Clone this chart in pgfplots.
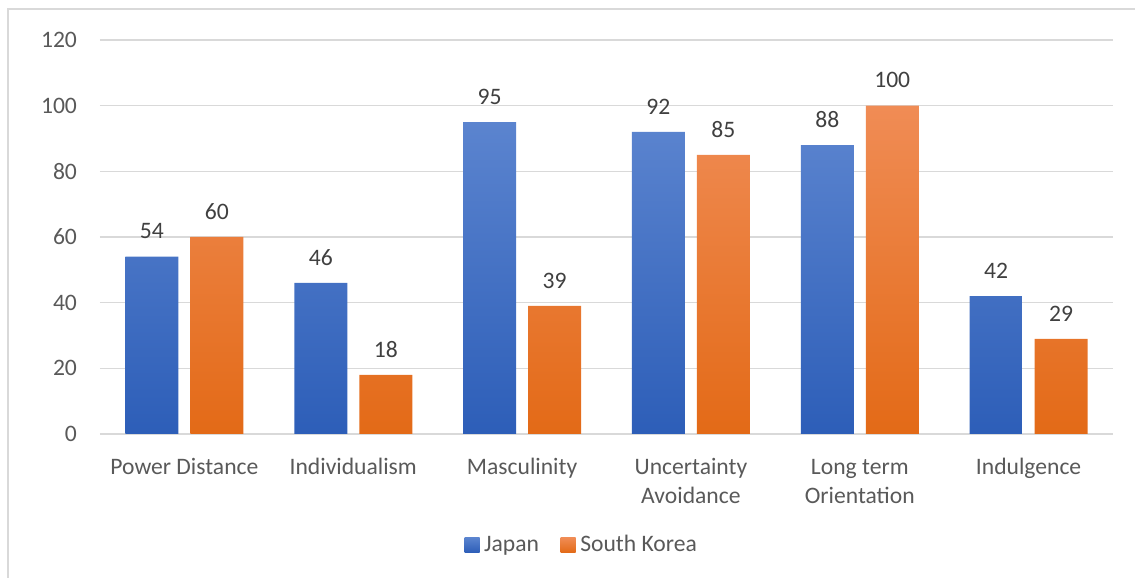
\documentclass[border=0pt]{standalone}
\usepackage{fontspec}
\setmainfont{Carlito}
\usepackage{pgfplots}
\pgfplotsset{compat=1.18}

\definecolor{gridgray}{HTML}{D9D9D9}
\definecolor{ticktext}{HTML}{595959}
\definecolor{labeltext}{HTML}{404040}
\definecolor{bluetop}{HTML}{5B84CF}
\definecolor{bluebot}{HTML}{2D5EB8}
\definecolor{orangetop}{HTML}{F08C55}
\definecolor{orangebot}{HTML}{E36A17}

\newcommand{\twolines}[2]{\begin{tabular}[t]{@{}c@{}}#1\\#2\end{tabular}}

\begin{document}
\begin{tikzpicture}[x=1pt,y=1pt]
% 1 px of the reference = 0.5pt
\useasboundingbox (0,0) rectangle (567.5,289);
\draw[gridgray, line width=0.8pt] (4,-5) -- (4,284.5) -- (575,284.5);
\begin{axis}[
    at={(50pt,72pt)}, anchor=south west,
    scale only axis,
    width=506.5pt, height=197pt,
    ybar, ybar=6pt, bar width=26.5pt,
    xmin=-0.5, xmax=5.5,
    ymin=0, ymax=120,
    ytick={0,20,...,120},
    xtick=data,
    xticklabels={Power Distance, Individualism, Masculinity,
        {\twolines{Uncertainty}{Avoidance}}, {\twolines{Long term}{Orientation}}, Indulgence},
    axis line style={draw=none},
    major tick length=0pt,
    ymajorgrids,
    grid style={gridgray, line width=0.8pt},
    /pgf/number format/assume math mode=true,
    tick label style={font=\fontsize{11.8}{14.5}\selectfont, text=ticktext},
    y tick label style={xshift=-8pt},
    x tick label style={anchor=base, yshift=-20pt},
    nodes near coords,
    every node near coord/.append style={font=\fontsize{11.8}{14}\selectfont,
        text=labeltext, yshift=5.3pt},
    legend columns=-1,
    legend style={at={(0.4768,-0.2817)}, anchor=center, draw=none,
        font=\fontsize{11.8}{14}\selectfont, text=ticktext,
        /tikz/every even column/.append style={column sep=8.5pt},
        nodes={inner sep=2.3pt}},
    legend image code/.code={\path[#1] (0pt,-3.75pt) rectangle (7.5pt,3.75pt);},
]
\addplot[draw=none, top color=bluetop, bottom color=bluebot] coordinates {
    (0,54) (1,46) (2,95) (3,92) (4,88) (5,42)
};
\addplot[draw=none, top color=orangetop, bottom color=orangebot] coordinates {
    (0,60) (1,18) (2,39) (3,85) (4,100) (5,29)
};
\legend{Japan, South Korea}
\end{axis}
\end{tikzpicture}
\end{document}
